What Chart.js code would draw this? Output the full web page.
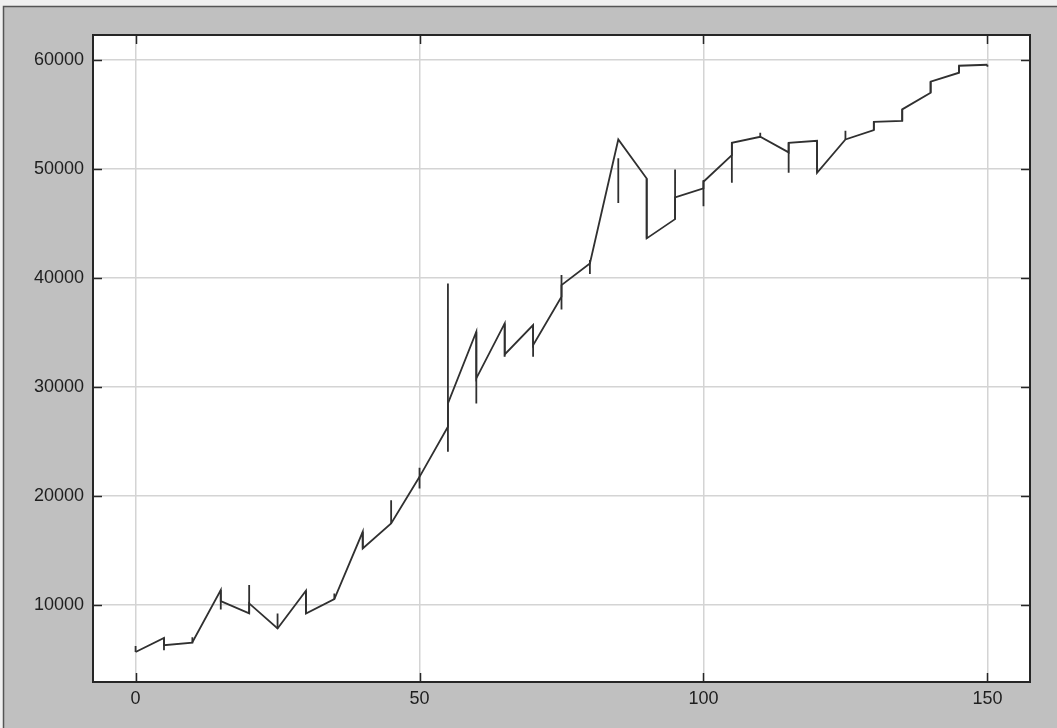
<!DOCTYPE html>
<html>
<head>
<meta charset="utf-8">
<script src="https://cdn.jsdelivr.net/npm/chart.js@4.4.1/dist/chart.umd.min.js"></script>
<style>
  html, body { margin: 0; padding: 0; background: #f0f0f0; }
</style>
</head>
<body>
<canvas id="myChart" width="1057" height="728"></canvas>
<script>
// x positions of the samples
var xValues = [0, 5, 10, 15, 20, 25, 30, 35, 40, 45, 50, 55, 60, 65, 70, 75,
               80, 85, 90, 95, 100, 105, 110, 115, 120, 125, 130, 135, 140, 145, 150];
// value where the line arrives at x, and where it leaves x
var lineIn  = [5700, 7000, 6550, 11380, 9240, 7860, 11320, 10550, 16730, 17500, 21770, 26360, 35080, 35840, 35690, 38290,
               41350, 52720, 49140, 45410, 48230, 51280, 52960, 51530, 52600, 52720, 53580, 54430, 57000, 58840, 59570];
var lineOut = [5700, 6330, 6600, 10370, 10160, 7860, 9240, 10550, 15200, 17500, 21770, 28500, 30800, 33000, 33850, 39360,
               41350, 52720, 43640, 47400, 48840, 52410, 52960, 52410, 49660, 52720, 54340, 55480, 58010, 59480, 59570];
// vertical bars at each x
var barLow  = [5700, 5870, 6550, 9600, 9240, 7860, 9240, 10550, 15200, 17500, 20700, 24060, 28500, 32780, 32780, 37130,
               40370, 46880, 43640, 45410, 46600, 48750, 52960, 49660, 49660, 52720, 53580, 54430, 57000, 58840, 59390];
var barHigh = [6250, 7000, 7050, 11380, 11840, 9240, 11320, 11070, 16730, 19630, 22600, 39510, 35080, 35840, 35690, 40280,
               41650, 51000, 49140, 49970, 49000, 52410, 53330, 52410, 52600, 53510, 54340, 55480, 58010, 59480, 59570];

var xTickValues = [0, 50, 100, 150];
var yTickValues = [10000, 20000, 30000, 40000, 50000, 60000];

var lineData = [];
var barData = [];
for (var i = 0; i < xValues.length; i++) {
  lineData.push({x: xValues[i], y: lineIn[i]});
  lineData.push({x: xValues[i], y: lineOut[i]});
  barData.push({x: xValues[i], y: barLow[i]});
  barData.push({x: xValues[i], y: barHigh[i]});
  barData.push({x: xValues[i], y: null});
}

var inkColor = '#303030';

const framePlugin = {
  id: 'frame',
  beforeDraw(chart) {
    const ctx = chart.ctx;
    const a = chart.chartArea;
    ctx.save();
    ctx.fillStyle = '#f0f0f0';
    ctx.fillRect(0, 0, chart.width, chart.height);
    ctx.fillStyle = '#c0c0c0';
    ctx.fillRect(4, 7, chart.width - 4, chart.height - 7);
    ctx.strokeStyle = '#555555';
    ctx.lineWidth = 1.5;
    ctx.beginPath();
    ctx.moveTo(3.5, chart.height);
    ctx.lineTo(3.5, 6.5);
    ctx.lineTo(chart.width, 6.5);
    ctx.stroke();
    ctx.fillStyle = '#ffffff';
    ctx.fillRect(a.left, a.top, a.right - a.left, a.bottom - a.top);
    ctx.restore();
  },
  afterDraw(chart) {
    const ctx = chart.ctx;
    const a = chart.chartArea;
    const xs = chart.scales.x, ys = chart.scales.y;
    const len = 9;
    ctx.save();
    ctx.strokeStyle = '#262626';
    ctx.lineWidth = 1.5;
    ctx.beginPath();
    xTickValues.forEach(v => {
      const px = Math.round(xs.getPixelForValue(v)) + 0.5;
      ctx.moveTo(px, a.bottom); ctx.lineTo(px, a.bottom - len);
      ctx.moveTo(px, a.top); ctx.lineTo(px, a.top + len);
    });
    yTickValues.forEach(v => {
      const py = Math.round(ys.getPixelForValue(v)) + 0.5;
      ctx.moveTo(a.left, py); ctx.lineTo(a.left + len, py);
      ctx.moveTo(a.right, py); ctx.lineTo(a.right - len, py);
    });
    ctx.stroke();
    ctx.lineWidth = 2;
    ctx.strokeRect(a.left, a.top, a.right - a.left, a.bottom - a.top);
    ctx.restore();
  }
};

const config = {
  type: 'line',
  data: {
    datasets: [
      {
        data: lineData,
        borderColor: inkColor,
        borderWidth: 1.8,
        pointRadius: 0,
        tension: 0
      },
      {
        data: barData,
        borderColor: inkColor,
        borderWidth: 1.8,
        pointRadius: 0,
        spanGaps: false
      }
    ]
  },
  options: {
    responsive: false,
    animation: false,
    devicePixelRatio: 1,
    layout: { padding: { left: 0, top: 35, right: 27, bottom: 0 } },
    plugins: {
      legend: { display: false },
      tooltip: { enabled: false }
    },
    scales: {
      x: {
        type: 'linear',
        min: -7.5,
        max: 157.5,
        afterBuildTicks: s => { s.ticks = xTickValues.map(v => ({value: v})); },
        afterFit: s => { s.height = 46; },
        grid: { color: '#d4d4d4', lineWidth: 1.5, drawTicks: false },
        border: { display: false },
        ticks: {
          padding: 6,
          color: '#1e1e1e',
          font: { family: 'Liberation Sans, Arial, sans-serif', size: 18 },
          callback: v => String(v)
        }
      },
      y: {
        type: 'linear',
        min: 2950,
        max: 62300,
        afterBuildTicks: s => { s.ticks = yTickValues.map(v => ({value: v})); },
        afterFit: s => { s.width = 93; },
        grid: { color: '#d4d4d4', lineWidth: 1.5, drawTicks: false },
        border: { display: false },
        ticks: {
          padding: 9,
          color: '#1e1e1e',
          font: { family: 'Liberation Sans, Arial, sans-serif', size: 18 },
          callback: v => String(v)
        }
      }
    }
  },
  plugins: [framePlugin]
};

new Chart(document.getElementById('myChart'), config);
</script>
</body>
</html>
